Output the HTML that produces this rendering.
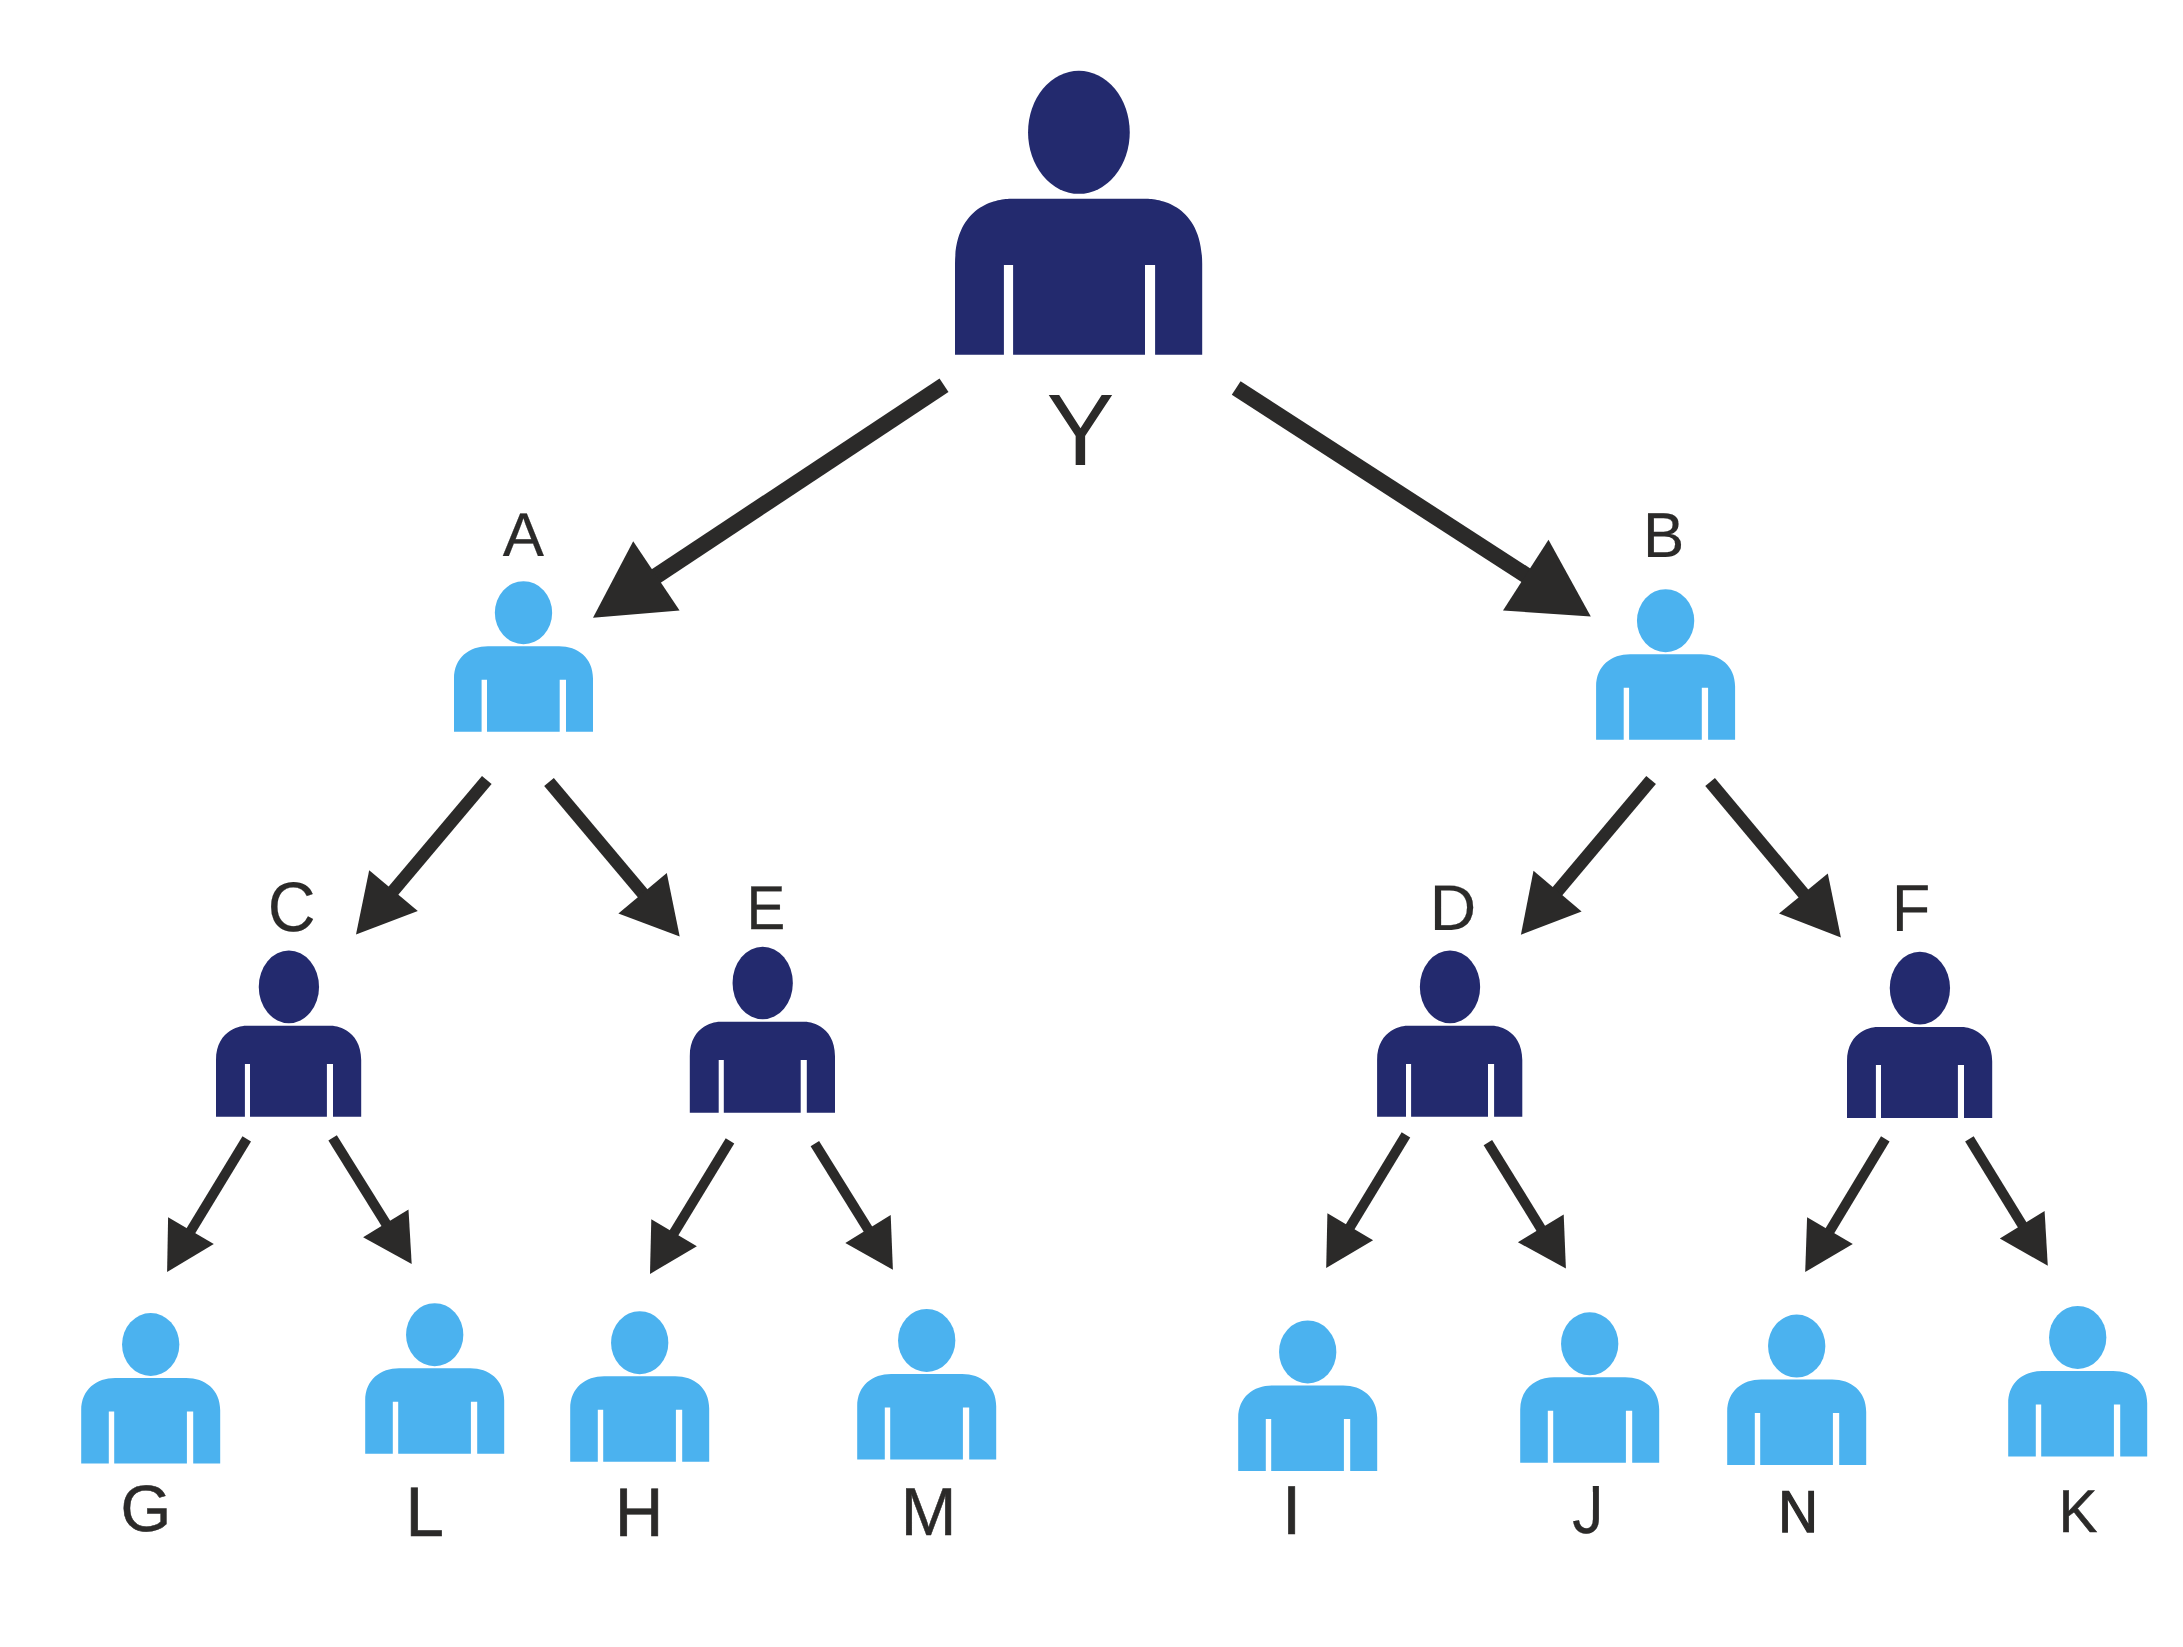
<!DOCTYPE html>
<html lang="en">
<head>
<meta charset="utf-8">
<title>Referral tree diagram</title>
<style>
html,body{margin:0;padding:0;background:#fff;}
body{width:2183px;height:1647px;overflow:hidden;font-family:"Liberation Sans",sans-serif;}
svg{display:block;}
text{font-family:"Liberation Sans",sans-serif;}
</style>
</head>
<body>
<svg width="2183" height="1647" viewBox="0 0 2183 1647">
<rect width="2183" height="1647" fill="#fff"/>
<g id="people">
<path fill="#232A6E" d="M955,354.7L955,264.1C955,204.32 997.88,198.7 1011.8,198.7L1145.4,198.7C1159.32,198.7 1202.2,204.32 1202.2,264.1L1202.2,354.7L1155.1,354.7 L1155.1,264.9 L1145,264.9 L1145,354.7L1013.1,354.7 L1013.1,264.9 L1003.9,264.9 L1003.9,354.7Z"/><ellipse fill="#232A6E" cx="1078.9" cy="132.29" rx="50.85" ry="61.55"/>
<path fill="#4BB2EF" d="M454,731.7L454,678.5C454,657.7 469.33,646.2 488,646.2L559,646.2C577.67,646.2 593,657.7 593,678.5L593,731.7L566,731.7 L566,679.7 L559.7,679.7 L559.7,731.7L487,731.7 L487,679.7 L481.6,679.7 L481.6,731.7Z"/><ellipse fill="#4BB2EF" cx="523.5" cy="612.7" rx="28.65" ry="31.5"/>
<path fill="#4BB2EF" d="M1596.1,739.7L1596.1,686.5C1596.1,665.7 1611.43,654.2 1630.1,654.2L1701.1,654.2C1719.77,654.2 1735.1,665.7 1735.1,686.5L1735.1,739.7L1708.1,739.7 L1708.1,687.7 L1701.8,687.7 L1701.8,739.7L1629.1,739.7 L1629.1,687.7 L1623.7,687.7 L1623.7,739.7Z"/><ellipse fill="#4BB2EF" cx="1665.6" cy="620.7" rx="28.65" ry="31.5"/>
<path fill="#232A6E" d="M216,1116.7L216,1060.1C216,1027.76 244.5,1025.7 244.5,1025.7L332.7,1025.7C332.7,1025.7 361.2,1027.76 361.2,1060.1L361.2,1116.7L333,1116.7 L333,1063.9 L326.9,1063.9 L326.9,1116.7L250,1116.7 L250,1063.9 L244.9,1063.9 L244.9,1116.7Z"/><ellipse fill="#232A6E" cx="288.9" cy="986.9" rx="30.15" ry="36.3"/>
<path fill="#232A6E" d="M689.8,1112.8L689.8,1056.2C689.8,1023.86 718.3,1021.8 718.3,1021.8L806.5,1021.8C806.5,1021.8 835,1023.86 835,1056.2L835,1112.8L806.8,1112.8 L806.8,1060 L800.7,1060 L800.7,1112.8L723.8,1112.8 L723.8,1060 L718.7,1060 L718.7,1112.8Z"/><ellipse fill="#232A6E" cx="762.7" cy="983" rx="30.15" ry="36.3"/>
<path fill="#232A6E" d="M1377.1,1116.7L1377.1,1060.1C1377.1,1027.76 1405.6,1025.7 1405.6,1025.7L1493.8,1025.7C1493.8,1025.7 1522.3,1027.76 1522.3,1060.1L1522.3,1116.7L1494.1,1116.7 L1494.1,1063.9 L1488,1063.9 L1488,1116.7L1411.1,1116.7 L1411.1,1063.9 L1406,1063.9 L1406,1116.7Z"/><ellipse fill="#232A6E" cx="1450" cy="986.9" rx="30.15" ry="36.3"/>
<path fill="#232A6E" d="M1847,1117.9L1847,1061.3C1847,1028.96 1875.5,1026.9 1875.5,1026.9L1963.7,1026.9C1963.7,1026.9 1992.2,1028.96 1992.2,1061.3L1992.2,1117.9L1964,1117.9 L1964,1065.1 L1957.9,1065.1 L1957.9,1117.9L1881,1117.9 L1881,1065.1 L1875.9,1065.1 L1875.9,1117.9Z"/><ellipse fill="#232A6E" cx="1919.9" cy="988.1" rx="30.15" ry="36.3"/>
<path fill="#4BB2EF" d="M81.2,1463.5L81.2,1410.3C81.2,1389.5 96.53,1378 115.2,1378L186.2,1378C204.87,1378 220.2,1389.5 220.2,1410.3L220.2,1463.5L193.2,1463.5 L193.2,1411.5 L186.9,1411.5 L186.9,1463.5L114.2,1463.5 L114.2,1411.5 L108.8,1411.5 L108.8,1463.5Z"/><ellipse fill="#4BB2EF" cx="150.7" cy="1344.5" rx="28.65" ry="31.5"/>
<path fill="#4BB2EF" d="M365.2,1453.7L365.2,1400.5C365.2,1379.7 380.53,1368.2 399.2,1368.2L470.2,1368.2C488.87,1368.2 504.2,1379.7 504.2,1400.5L504.2,1453.7L477.2,1453.7 L477.2,1401.7 L470.9,1401.7 L470.9,1453.7L398.2,1453.7 L398.2,1401.7 L392.8,1401.7 L392.8,1453.7Z"/><ellipse fill="#4BB2EF" cx="434.7" cy="1334.7" rx="28.65" ry="31.5"/>
<path fill="#4BB2EF" d="M570.2,1461.7L570.2,1408.5C570.2,1387.7 585.53,1376.2 604.2,1376.2L675.2,1376.2C693.87,1376.2 709.2,1387.7 709.2,1408.5L709.2,1461.7L682.2,1461.7 L682.2,1409.7 L675.9,1409.7 L675.9,1461.7L603.2,1461.7 L603.2,1409.7 L597.8,1409.7 L597.8,1461.7Z"/><ellipse fill="#4BB2EF" cx="639.7" cy="1342.7" rx="28.65" ry="31.5"/>
<path fill="#4BB2EF" d="M857.2,1459.4L857.2,1406.2C857.2,1385.4 872.53,1373.9 891.2,1373.9L962.2,1373.9C980.87,1373.9 996.2,1385.4 996.2,1406.2L996.2,1459.4L969.2,1459.4 L969.2,1407.4 L962.9,1407.4 L962.9,1459.4L890.2,1459.4 L890.2,1407.4 L884.8,1407.4 L884.8,1459.4Z"/><ellipse fill="#4BB2EF" cx="926.7" cy="1340.4" rx="28.65" ry="31.5"/>
<path fill="#4BB2EF" d="M1238.2,1470.9L1238.2,1417.7C1238.2,1396.9 1253.53,1385.4 1272.2,1385.4L1343.2,1385.4C1361.87,1385.4 1377.2,1396.9 1377.2,1417.7L1377.2,1470.9L1350.2,1470.9 L1350.2,1418.9 L1343.9,1418.9 L1343.9,1470.9L1271.2,1470.9 L1271.2,1418.9 L1265.8,1418.9 L1265.8,1470.9Z"/><ellipse fill="#4BB2EF" cx="1307.7" cy="1351.9" rx="28.65" ry="31.5"/>
<path fill="#4BB2EF" d="M1520.2,1462.8L1520.2,1409.6C1520.2,1388.8 1535.53,1377.3 1554.2,1377.3L1625.2,1377.3C1643.87,1377.3 1659.2,1388.8 1659.2,1409.6L1659.2,1462.8L1632.2,1462.8 L1632.2,1410.8 L1625.9,1410.8 L1625.9,1462.8L1553.2,1462.8 L1553.2,1410.8 L1547.8,1410.8 L1547.8,1462.8Z"/><ellipse fill="#4BB2EF" cx="1589.7" cy="1343.8" rx="28.65" ry="31.5"/>
<path fill="#4BB2EF" d="M1727.2,1465.1L1727.2,1411.9C1727.2,1391.1 1742.53,1379.6 1761.2,1379.6L1832.2,1379.6C1850.87,1379.6 1866.2,1391.1 1866.2,1411.9L1866.2,1465.1L1839.2,1465.1 L1839.2,1413.1 L1832.9,1413.1 L1832.9,1465.1L1760.2,1465.1 L1760.2,1413.1 L1754.8,1413.1 L1754.8,1465.1Z"/><ellipse fill="#4BB2EF" cx="1796.7" cy="1346.1" rx="28.65" ry="31.5"/>
<path fill="#4BB2EF" d="M2008.2,1456.4L2008.2,1403.2C2008.2,1382.4 2023.53,1370.9 2042.2,1370.9L2113.2,1370.9C2131.87,1370.9 2147.2,1382.4 2147.2,1403.2L2147.2,1456.4L2120.2,1456.4 L2120.2,1404.4 L2113.9,1404.4 L2113.9,1456.4L2041.2,1456.4 L2041.2,1404.4 L2035.8,1404.4 L2035.8,1456.4Z"/><ellipse fill="#4BB2EF" cx="2077.7" cy="1337.4" rx="28.65" ry="31.5"/>
</g>
<g id="arrows" fill="#2B2A29">
<polygon points="939.52,378.45 650.26,570.2 659.21,583.71 948.48,391.95"/><polygon points="593,617.7 633.2,541.2 679.6,610.5"/>
<polygon points="1231.8,394.8 1523.03,583.04 1531.83,569.43 1240.6,381.2"/><polygon points="1590.8,616.5 1548.5,539.8 1503,610.5"/>
<polygon points="481.99,775.94 387.4,888.02 397.02,896.14 491.61,784.06"/><polygon points="356,934.5 369.2,870.2 417.8,910.9"/>
<polygon points="544.18,786.06 639.07,898.79 648.71,890.67 553.82,777.94"/><polygon points="679.7,936.5 666.8,873 618.4,913.4"/>
<polygon points="1646.28,775.94 1551.44,888.57 1561.08,896.69 1655.92,784.06"/><polygon points="1520.9,934.8 1533.5,870.8 1581.6,911.4"/>
<polygon points="1705.27,786.04 1799.85,899.03 1809.51,890.94 1714.93,777.96"/><polygon points="1840.9,937.6 1827.8,873.5 1779,913.4"/>
<polygon points="242.48,1136.2 185.64,1229.81 194.19,1235 251.02,1141.4"/><polygon points="167.1,1272 168.1,1217.3 213.8,1244.1"/>
<polygon points="328.36,1140.49 382.61,1227.64 391.1,1222.36 336.84,1135.21"/><polygon points="411.7,1263.9 408.5,1209.4 363.1,1237.2"/>
<polygon points="725.73,1138.2 668.79,1231.86 677.33,1237.06 734.27,1143.4"/><polygon points="650,1273.9 651.3,1219.2 696.9,1246.3"/>
<polygon points="810.6,1146.34 864.81,1233.44 873.3,1228.16 819.1,1141.06"/><polygon points="892.9,1269.8 890.7,1215.1 845.3,1243.1"/>
<polygon points="1401.67,1132.21 1344.94,1225.87 1353.49,1231.05 1410.23,1137.39"/><polygon points="1326.2,1268 1327.4,1213.3 1373.1,1240.2"/>
<polygon points="1483.65,1145.23 1537.6,1232.63 1546.11,1227.38 1492.15,1139.97"/><polygon points="1565.9,1268.6 1563.7,1214.4 1517.9,1242.2"/>
<polygon points="1881.02,1136.22 1824.63,1229.83 1833.2,1234.99 1889.58,1141.38"/><polygon points="1805.2,1272 1807.1,1217.3 1852.8,1244.1"/>
<polygon points="1965.14,1141.57 2018.99,1229.17 2027.51,1223.94 1973.66,1136.33"/><polygon points="2047.8,1265.7 2044.6,1211.1 1999.8,1238.6"/>
</g>
<g id="labels" fill="#2B2A29" text-rendering="geometricPrecision">
<text transform="translate(1048.8,464.9) scale(0.9987,1)" x="-2.24" y="0" font-size="101.89">Y</text>
<text transform="translate(502.9,555.5) scale(1.0033,1)" x="-0.12" y="0" font-size="61.63" stroke="#2B2A29" stroke-width="0.2" stroke-linejoin="miter">A</text>
<text transform="translate(1648.1,556.8) scale(0.9732,1)" x="-5.21" y="0" font-size="63.52" stroke="#2B2A29" stroke-width="0.2" stroke-linejoin="miter">B</text>
<text transform="translate(271,930.91) scale(0.9448,1)" x="-3.56" y="0" font-size="70.2" stroke="#2B2A29" stroke-width="0.2" stroke-linejoin="miter">C</text>
<text transform="translate(751.25,928.75) scale(0.9386,1)" x="-5.08" y="0" font-size="61.92" stroke="#2B2A29" stroke-width="0.3" stroke-linejoin="miter">E</text>
<text transform="translate(1434.9,929.6) scale(0.9990,1)" x="-5.28" y="0" font-size="64.39" stroke="#2B2A29" stroke-width="0.2" stroke-linejoin="miter">D</text>
<text transform="translate(1897,930.8) scale(0.9517,1)" x="-5.45" y="0" font-size="66.43">F</text>
<text transform="translate(123.85,1531.11) scale(0.9936,1)" x="-3.3" y="0" font-size="65.68" stroke="#2B2A29" stroke-width="0.5" stroke-linejoin="miter">G</text>
<text transform="translate(411.25,1535.6) scale(0.9831,1)" x="-5.75" y="0" font-size="70.13" stroke="#2B2A29" stroke-width="0.7" stroke-linejoin="miter">L</text>
<text transform="translate(620.35,1535.55) scale(0.9733,1)" x="-5.63" y="0" font-size="68.61" stroke="#2B2A29" stroke-width="0.7" stroke-linejoin="miter">H</text>
<text transform="translate(906.15,1534.75) scale(0.9865,1)" x="-5.56" y="0" font-size="67.73" stroke="#2B2A29" stroke-width="0.5" stroke-linejoin="miter">M</text>
<text transform="translate(1288.35,1533.55) scale(0.9826,1)" x="-6.34" y="0" font-size="68.75" stroke="#2B2A29" stroke-width="0.7" stroke-linejoin="miter">I</text>
<clipPath id="jclip"><path d="M1592.81,1483 L1601.9,1483 L1601.9,1536.9 L1570,1536.9 L1570,1509.77 L1592.81,1509.77 Z"/></clipPath><g clip-path="url(#jclip)"><text transform="translate(1573.15,1533.08) scale(0.9149,1)" x="-1.07" y="0" font-size="68.22" stroke="#2B2A29" stroke-width="0.3" stroke-linejoin="miter">J</text></g>
<text transform="translate(1782.65,1532.25) scale(0.9290,1)" x="-4.85" y="0" font-size="59.16" stroke="#2B2A29" stroke-width="1.3" stroke-linejoin="miter">N</text>
<text transform="translate(2063.25,1531.65) scale(0.9680,1)" x="-4.95" y="0" font-size="60.32" stroke="#2B2A29" stroke-width="0.5" stroke-linejoin="miter">K</text>
</g>
</svg>
</body>
</html>
